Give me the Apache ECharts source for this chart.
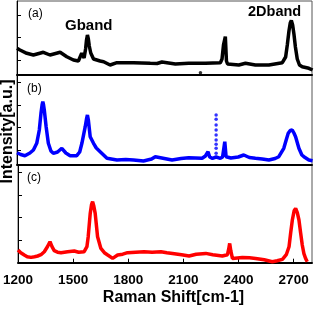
<!DOCTYPE html>
<html>
<head>
<meta charset="utf-8">
<script src="https://cdn.jsdelivr.net/npm/echarts@6/dist/echarts.min.js"></script>
<style>
html,body{margin:0;padding:0;background:#fff;}
#chart{width:315px;height:309px;}
</style>
</head>
<body>
<div id="chart"></div>
<script>
// Raman shift (cm-1) and intensity (a.u.)
const xTicks = [1200, 1500, 1800, 2100, 2400, 2700];
const panelLabels = ['(a)', '(b)', '(c)'];

const shiftA = [1200,1216,1253,1289,1343,1379,1434,1470,1506,1533,1551,1564,1572,1577,1582,1587,1592,1600,1615,1651,1670,1705,1742,1832,1923,1960,1986,2059,2131,2222,2303,2312,2320,2330,2336,2342,2403,2439,2493,2566,2639,2645,2657,2666,2675,2682,2688,2695,2702,2710,2720,2732,2747,2783,2803];
const intenA = [26.7,25,21.7,20,22.7,20,22.7,18.3,15,14,21.7,17,26,35,40,36,29,22,16,14,13.3,10,12.3,12.3,11.7,11.5,13,11,11.7,11.7,12.3,16,30,38.3,14,11,10,11.7,10,10,12.3,13,18,30,44,52,54.5,50,41,28,16,10,8.3,6.7,5];

const shiftB = [1200,1220,1243,1270,1289,1307,1321,1330,1336,1340,1344,1348,1358,1370,1384,1397,1420,1443,1465,1488,1524,1540,1552,1570,1577,1582,1587,1597,1615,1630,1651,1688,1742,1790,1832,1886,1930,1950,1978,2041,2090,2131,2204,2222,2236,2245,2260,2280,2303,2315,2327,2334,2360,2400,2430,2460,2493,2530,2566,2600,2620,2647,2660,2671,2682,2693,2702,2711,2729,2745,2756,2783,2803];
const intenB = [12.3,10.5,9.3,12,15,21.7,35,51.7,60,63.3,60,55,38.3,21.7,14,11.7,13,16.7,12,9.3,9.3,13,21.7,38.3,46,50,45,28.3,21.7,17,13.3,6.7,5,5.5,5,4,6,8.3,7.3,5,6.5,7.3,6.7,9,13.3,8,6.7,8,6.7,8,23.3,8.3,7,8,10,7.5,6.7,6,5,6.5,8.3,16.7,25,31.7,34.5,35,32,28.3,16.7,10,8.3,5,4.3];
const spikeShiftB = [2280,2280,2280,2280,2280,2280,2280,2280,2280];
const spikeIntenB = [50,45.7,40,35,30,25,20.7,16.7,11.7];
const dotShiftA = [2195];
const dotIntenA = [2.3];

const shiftC = [1200,1215,1234,1250,1271,1290,1307,1325,1343,1360,1374,1385,1397,1415,1434,1470,1506,1530,1560,1575,1582,1593,1600,1606,1612,1620,1633,1651,1670,1688,1715,1742,1770,1796,1840,1886,1930,1978,2010,2041,2090,2131,2170,2222,2260,2312,2340,2347,2352,2358,2367,2421,2460,2493,2540,2584,2610,2639,2660,2675,2684,2693,2703,2711,2720,2729,2738,2747,2756,2765,2774];
const intenC = [12.7,10,7.7,6,5.3,6,6.7,8,11,16,21,16,12,10.5,10,11,11.7,10.5,11,16,26,49.3,58,61,57,49.3,26,14.3,10,7.7,4.3,7.7,8.5,10,10.5,11,10.5,11,10,9.3,8,6.7,8.5,9.3,8,6.7,8,14,19.3,12,4.3,5.3,5,4.3,3,1,2,3.3,8,16,30,42.7,52,54.3,50,42.7,30,17.7,9,4.3,1];

function pairs(xs, ys){ return xs.map((x,i)=>[x, ys[i]]); }

const FONT = 'Liberation Sans, Arial, sans-serif';
const chart = echarts.init(document.getElementById('chart'), null, {renderer:'canvas'});

const grids = [
  {left:17, right:3, top:1, height:74},
  {left:17, right:3, top:75, height:90},
  {left:17, right:3, top:165, height:97.7}
];
const yMax = [74, 90, 97.7];
const yTickVals = [[15,37.5,60],[15,37.5,60,82.5],[22.5,45,67.5,90]];

const xAxes = grids.map((g,i)=>({
  type:'value', gridIndex:i, min:1200, max:2800, interval:300,
  axisLine:{show:true, lineStyle:{color:'#000', width:2}},
  axisTick: i===2 ? {show:true, inside:true, length:4, customValues:xTicks, lineStyle:{color:'#000', width:1}} : {show:false},
  axisLabel: i===2 ? {show:true, customValues:xTicks, formatter:v=>String(v), color:'#000', fontWeight:'bold', fontSize:13.5, fontFamily:FONT, margin:11} : {show:false},
  splitLine:{show:false},
  name: i===2 ? 'Raman Shift[cm-1]' : '',
  nameLocation:'middle', nameGap:27,
  nameTextStyle:{color:'#000', fontWeight:'bold', fontSize:16, fontFamily:FONT, padding:[0,0,0,17]}
}));
const yAxes = grids.map((g,i)=>({
  type:'value', gridIndex:i, min:0, max:yMax[i],
  axisLine:{show:true, lineStyle:{color:'#000', width:1}},
  axisTick:{show:true, inside:true, length:4, customValues:yTickVals[i], lineStyle:{color:'#000'}},
  axisLabel:{show:false},
  splitLine:{show:false}
}));

const colors = ['#000000', '#0000ff', '#ff0000'];
const mk = (idx, data) => ({
  type:'line', xAxisIndex:idx, yAxisIndex:idx, data:data, showSymbol:false, symbol:'none',
  lineStyle:{color:colors[idx], width:3.5}, itemStyle:{color:colors[idx]}, animation:false, z:3
});

chart.setOption({
  animation:false,
  grid: grids.map(g=>Object.assign({show:true, borderColor:'#555', borderWidth:1}, g)),
  xAxis:xAxes,
  yAxis:yAxes,
  series:[
    mk(0, pairs(shiftA, intenA)),
    mk(1, pairs(shiftB, intenB)),
    mk(2, pairs(shiftC, intenC)),
    {type:'scatter', xAxisIndex:1, yAxisIndex:1, data:pairs(spikeShiftB, spikeIntenB), symbolSize:3.5, itemStyle:{color:'#0000ff'}, animation:false},
    {type:'scatter', xAxisIndex:0, yAxisIndex:0, data:pairs(dotShiftA, dotIntenA), symbolSize:3.5, itemStyle:{color:'#000'}, animation:false}
  ],
  graphic:[
    {type:'text', left:28, top:8, style:{text:panelLabels[0], font:'12px '+FONT, fill:'#000'}},
    {type:'text', left:27, top:83, style:{text:panelLabels[1], font:'12px '+FONT, fill:'#000'}},
    {type:'text', left:27, top:172, style:{text:panelLabels[2], font:'12px '+FONT, fill:'#000'}},
    {type:'text', left:65, top:18, style:{text:'Gband', font:'bold 15px '+FONT, fill:'#000'}},
    {type:'text', left:248, top:4, style:{text:'2Dband', font:'bold 14.5px '+FONT, fill:'#000'}},
    {type:'text', x:8, y:131.5, rotation:Math.PI/2, style:{text:'Intensity[a.u.]', font:'bold 16px '+FONT, fill:'#000', align:'center', verticalAlign:'middle'}}
  ]
});
</script>
</body>
</html>
